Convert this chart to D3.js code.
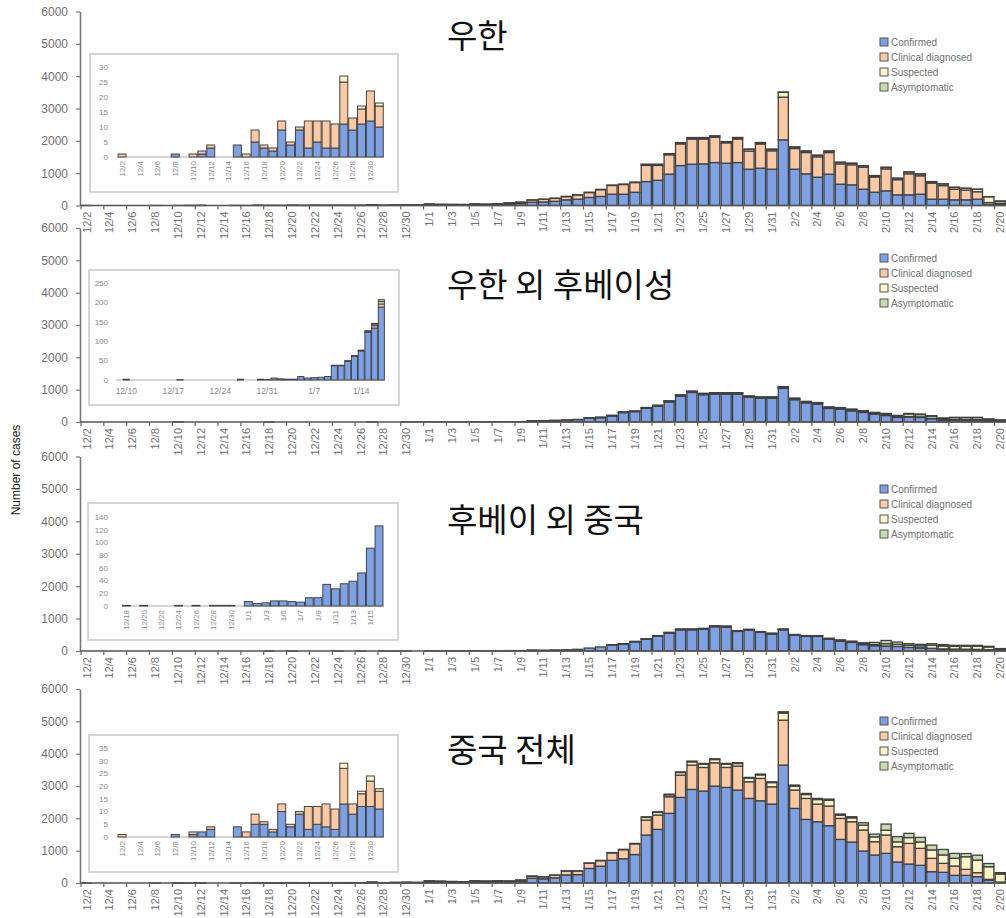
<!DOCTYPE html>
<html><head><meta charset="utf-8">
<script src="https://cdn.jsdelivr.net/npm/d3@7"></script>
<style>body{margin:0;background:#fff;} svg{display:block;}</style>
</head><body><svg id="c" width="1006" height="918"></svg>
<script>
// ---------- categories ----------
const dates = ["12/2","12/3","12/4","12/5","12/6","12/7","12/8","12/9","12/10","12/11","12/12","12/13","12/14","12/15","12/16","12/17","12/18","12/19","12/20","12/21","12/22","12/23","12/24","12/25","12/26","12/27","12/28","12/29","12/30","12/31",
"1/1","1/2","1/3","1/4","1/5","1/6","1/7","1/8","1/9","1/10","1/11","1/12","1/13","1/14","1/15","1/16","1/17","1/18","1/19","1/20","1/21","1/22","1/23","1/24","1/25","1/26","1/27","1/28","1/29","1/30","1/31",
"2/1","2/2","2/3","2/4","2/5","2/6","2/7","2/8","2/9","2/10","2/11","2/12","2/13","2/14","2/15","2/16","2/17","2/18","2/19","2/20"];
const seriesNames = ["Confirmed","Clinical diagnosed","Suspected","Asymptomatic"];
const yTicks = [0,1000,2000,3000,4000,5000,6000];

// ---------- 우한 ----------
const wuhanConfirmed = [0,0,0,0,0,0,1,0,0,1,3,0,0,4,0,5,3,2,9,4,9,3,5,3,3,11,9,11,12,10,
25,20,20,18,28,25,30,50,60,100,110,130,175,195,250,280,350,350,410,740,780,970,1236,1277,1288,1329,1308,1329,1123,1154,1123,
2030,1123,979,876,968,659,639,505,412,453,330,330,350,196,196,175,175,196,30,40];
const wuhanClinical = [1,0,0,0,0,0,0,0,1,1,1,0,0,0,1,4,1,1,3,1,1,9,7,9,8,14,4,5,10,7,
20,15,12,12,18,15,20,30,40,70,80,90,100,130,150,210,270,300,300,500,460,600,670,780,770,780,630,730,560,750,570,
1320,640,660,630,670,630,620,680,470,680,470,650,570,500,420,330,300,230,60,30];
const wuhanSuspected = [0,0,0,0,0,0,0,0,0,0,0,0,0,0,0,0,0,0,0,0,0,0,0,0,0,2,0,1,0,1,
1,1,1,1,2,2,2,3,3,5,5,6,8,8,10,10,12,12,15,30,30,30,35,40,40,40,35,40,55,40,45,
150,45,45,45,45,45,45,45,40,45,40,55,55,40,50,55,55,75,180,60];
const wuhanAsymptomatic = [0,0,0,0,0,0,0,0,0,0,0,0,0,0,0,0,0,0,0,0,0,0,0,0,0,0,0,0,0,0,
0,0,0,0,0,0,0,0,0,0,0,0,0,0,0,0,0,0,0,5,5,5,5,5,5,5,5,5,5,5,5,
10,5,5,5,5,5,5,5,5,5,5,5,5,5,5,5,5,5,5,10];

// ---------- 우한 외 후베이성 ----------
const hubeiConfirmed = [0,0,0,0,0,0,0,0,2,0,0,0,0,0,0,0,1,0,0,0,0,0,0,0,0,2,0,0,2,1,
5,3,2,2,9,5,6,7,9,37,37,48,61,75,123,134,188,290,320,425,490,620,800,915,845,865,865,865,765,735,735,
1040,690,590,555,420,400,345,295,240,200,140,150,140,100,60,60,55,55,35,25];
const hubeiClinical = [0,0,0,0,0,0,0,0,0,0,0,0,0,0,0,0,0,0,0,0,0,0,0,0,0,0,0,0,0,0,
0,0,0,0,0,0,0,0,0,0,0,0,0,0,2,6,8,10,10,12,14,18,20,22,22,22,22,22,22,22,22,
25,22,22,22,22,22,22,20,20,20,20,20,20,15,15,15,15,15,10,8];
const hubeiSuspected = [0,0,0,0,0,0,0,0,0,0,0,0,0,0,0,0,0,0,0,0,0,0,0,0,0,0,0,0,0,0,
0,0,0,0,0,0,0,0,0,0,0,0,0,0,0,4,6,6,6,8,10,12,14,15,15,15,15,15,15,15,15,
25,20,20,20,20,20,25,25,30,35,35,80,70,65,40,60,65,65,40,25];
const hubeiAsymptomatic = [0,0,0,0,0,0,0,0,0,0,0,0,0,0,0,0,0,0,0,0,0,0,0,0,0,0,0,0,0,0,
0,0,0,0,0,0,0,0,0,1,1,2,2,2,2,2,5,3,3,3,3,3,3,3,3,3,3,3,3,3,3,
5,5,5,5,5,5,5,8,8,10,10,15,15,15,10,10,10,10,10,7];

// ---------- 후베이 외 중국 ----------
const otherConfirmed = [0,0,0,0,0,0,0,0,0,0,0,0,0,0,0,0,1,0,1,0,0,0,1,0,1,0,1,1,1,0,
7,4,5,8,8,7,6,13,13,34,27,35,39,52,91,126,190,218,285,362,458,555,655,655,672,750,740,605,645,575,525,
655,485,450,450,360,300,265,195,165,150,140,110,95,80,60,55,50,45,35,20];
const otherClinical = [0,0,0,0,0,0,0,0,0,0,0,0,0,0,0,0,0,0,0,0,0,0,0,0,0,0,0,0,0,0,
0,0,0,0,0,0,0,0,0,0,0,0,0,0,0,0,2,2,3,3,4,5,5,5,5,5,5,5,5,5,5,
5,5,5,5,5,5,5,5,5,5,5,5,5,5,5,5,5,5,5,5];
const otherSuspected = [0,0,0,0,0,0,0,0,0,0,0,0,0,0,0,0,0,0,0,0,0,0,0,0,0,0,0,0,0,0,
0,0,0,0,0,0,0,0,0,0,0,0,0,0,0,0,3,4,5,7,8,10,12,12,13,15,15,12,12,12,12,
12,12,12,12,15,15,15,20,30,70,60,60,60,90,90,85,95,100,85,40];
const otherAsymptomatic = [0,0,0,0,0,0,0,0,0,0,0,0,0,0,0,0,0,0,0,0,0,0,0,0,0,0,0,0,0,0,
0,0,0,0,0,0,0,0,0,0,0,0,0,0,0,0,0,1,2,3,5,5,8,8,10,10,10,8,8,8,8,
8,8,8,8,15,25,20,35,65,100,70,50,45,50,40,30,25,25,20,10];

// ---------- 중국 전체 ----------
const chinaConfirmed = [0,0,0,0,0,0,1,0,1,2,3,0,0,4,0,5,5,2,10,4,9,3,5,4,3,13,9,12,12,11,
40,35,30,28,45,40,45,40,60,150,130,160,250,260,450,520,700,750,880,1483,1658,2153,2647,2894,2843,2997,2956,2874,2616,2544,2441,
3646,2307,1967,1895,1772,1349,1267,989,865,917,649,587,546,350,330,237,237,196,93,30];
const chinaClinical = [1,0,0,0,0,0,0,0,1,0,1,0,0,0,2,4,1,1,3,1,1,9,7,9,8,14,4,5,10,7,
25,20,15,12,20,18,20,20,30,60,60,80,120,110,160,170,230,280,330,463,443,515,690,752,731,721,618,742,515,690,535,
1390,567,649,546,608,649,628,649,412,566,474,638,525,412,278,288,185,124,20,0];
const chinaSuspected = [0,0,0,0,0,0,0,0,0,0,0,0,0,0,0,0,0,0,0,0,0,0,0,0,0,2,0,1,2,1,
1,1,1,1,2,2,2,3,3,5,5,6,8,8,10,10,12,12,15,82,82,60,80,100,100,100,100,80,110,110,130,
220,120,120,140,180,100,120,150,150,150,150,180,200,260,260,240,390,390,390,250];
const chinaAsymptomatic = [0,0,0,0,0,0,0,0,0,0,0,0,0,0,0,0,0,0,0,0,0,0,0,0,0,0,0,0,0,0,
0,0,0,0,0,0,0,0,0,0,0,0,0,0,0,0,0,0,0,20,20,20,20,25,25,25,25,25,25,25,25,
40,35,35,35,35,35,35,75,85,190,160,130,140,150,170,150,100,150,100,40];

// ---------- inset tick labels ----------
const inset1YTicks = [0,5,10,15,20,25,30];
const inset2YTicks = [0,50,100,150,200,250];
const inset3YTicks = [0,20,40,60,80,100,120,140];
const inset4YTicks = [0,5,10,15,20,25,30,35];
const insetDecXTicks = ["12/2","12/4","12/6","12/8","12/10","12/12","12/14","12/16","12/18","12/20","12/22","12/24","12/26","12/28","12/30"];
const inset2XTicks = ["12/10","12/17","12/24","12/31","1/7","1/14"];
const inset3XTicks = ["12/18","12/20","12/22","12/24","12/26","12/28","12/30","1/1","1/3","1/5","1/7","1/9","1/11","1/13","1/15"];

// ---------- drawing ----------
const colors = ["#7da1e4","#fbc9a3","#fcf4c6","#c5ddad"];
const keys = ["c","k","s","a"];
const svg = d3.select("#c");
const FONT = "'Liberation Sans', Arial, sans-serif";

function rowsFrom(arrs, from, to) {
  return dates.slice(from, to).map((d, j) => {
    const i = from + j;
    return {date: d, c: arrs[0][i], k: arrs[1][i], s: arrs[2][i], a: arrs[3][i]};
  });
}

const x = d3.scaleBand().domain(dates).range([81, 1006]).paddingInner(0.12).paddingOuter(0.06);

const panels = [
  {title:"우한", data:[wuhanConfirmed,wuhanClinical,wuhanSuspected,wuhanAsymptomatic], y0:205.5, yTop:11.5, titleY:34, legendY:42,
   inset:{box:[90,54,398,192], xr:[117.6,383.7], from:0, to:30, yr:[157,67], ymax:30, yt:inset1YTicks, xt:insetDecXTicks, rot:true}},
  {title:"우한 외 후베이성", data:[hubeiConfirmed,hubeiClinical,hubeiSuspected,hubeiAsymptomatic], y0:422, yTop:228, titleY:283, legendY:258,
   inset:{box:[89,270,399,405], xr:[116.2,384.7], from:7, to:47, yr:[380,283], ymax:250, yt:inset2YTicks, xt:inset2XTicks, rot:false}},
  {title:"후베이 외 중국", data:[otherConfirmed,otherClinical,otherSuspected,otherAsymptomatic], y0:651, yTop:456.5, titleY:518, legendY:489,
   inset:{box:[88,503,398,640], xr:[121.9,383.4], from:16, to:46, yr:[606,517], ymax:140, yt:inset3YTicks, xt:inset3XTicks, rot:true}},
  {title:"중국 전체", data:[chinaConfirmed,chinaClinical,chinaSuspected,chinaAsymptomatic], y0:883, yTop:689, titleY:748, legendY:721,
   inset:{box:[89,735,398,872], xr:[117.6,383.7], from:0, to:30, yr:[837,748], ymax:35, yt:inset4YTicks, xt:insetDecXTicks, rot:true}}
];

panels.forEach(p => {
  const g = svg.append("g");
  const y = d3.scaleLinear().domain([0, 6000]).range([p.y0, p.yTop]);
  const rows = rowsFrom(p.data, 0, dates.length);
  const stacked = d3.stack().keys(keys)(rows);

  // bars
  g.selectAll("g.layer").data(stacked).join("g")
    .attr("fill", (d, i) => colors[i])
    .selectAll("rect").data(d => d).join("rect")
    .attr("x", d => x(d.data.date))
    .attr("width", x.bandwidth())
    .attr("y", d => y(d[1]))
    .attr("height", d => Math.max(0, y(d[0]) - y(d[1])))
    .attr("stroke", "#404040").attr("stroke-width", 1.3);

  // y axis
  const ya = g.append("g").attr("transform", "translate(80,0)")
    .call(d3.axisLeft(y).tickValues(yTicks).tickFormat(d3.format("d")).tickSizeInner(4).tickSizeOuter(0).tickPadding(8));
  ya.select(".domain").attr("stroke", "#777").attr("stroke-width", 1.6);
  ya.selectAll(".tick line").attr("stroke", "#777").attr("stroke-width", 1.2);
  ya.selectAll("text").attr("fill", "#707070").style("font-family", FONT).style("font-size", "12px");

  // x baseline & ticks
  g.append("line").attr("x1", 80).attr("x2", 1006).attr("y1", p.y0).attr("y2", p.y0)
    .attr("stroke", "#555").attr("stroke-width", 1.6);
  g.selectAll("line.xt").data(dates.filter((d, i) => i % 2 === 0)).join("line")
    .attr("x1", d => x(d) - x.step() * x.paddingInner() / 2)
    .attr("x2", d => x(d) - x.step() * x.paddingInner() / 2)
    .attr("y1", p.y0).attr("y2", p.y0 + 4).attr("stroke", "#666").attr("stroke-width", 1.2);
  g.selectAll("text.xl").data(dates.filter((d, i) => i % 2 === 0)).join("text")
    .attr("transform", d => `translate(${x(d) + x.bandwidth() / 2},${p.y0 + 6}) rotate(-90)`)
    .attr("text-anchor", "end").attr("dy", "0.35em")
    .attr("fill", "#707070").style("font-family", FONT).style("font-size", "11px")
    .text(d => d);

  // title
  g.append("text").attr("x", 447).attr("y", p.titleY).attr("dominant-baseline", "central")
    .style("font-family", "'Noto Sans CJK KR', sans-serif").style("font-size", "33px").attr("fill", "#111")
    .text(p.title);

  // legend
  const lg = g.append("g").attr("transform", `translate(880,${p.legendY})`);
  seriesNames.forEach((n, i) => {
    lg.append("rect").attr("x", 0).attr("y", i * 15 - 4).attr("width", 8).attr("height", 8)
      .attr("fill", colors[i]).attr("stroke", "#555").attr("stroke-width", 1);
    lg.append("text").attr("x", 11).attr("y", i * 15).attr("dy", "0.35em")
      .attr("fill", "#707070").style("font-family", FONT).style("font-size", "10px").text(n);
  });

  // inset
  const ins = p.inset;
  const ig = g.append("g");
  ig.append("rect").attr("x", ins.box[0]).attr("y", ins.box[1])
    .attr("width", ins.box[2] - ins.box[0]).attr("height", ins.box[3] - ins.box[1])
    .attr("fill", "#fff").attr("stroke", "#c8c8c8").attr("stroke-width", 1.5);
  const iRows = rowsFrom(p.data, ins.from, ins.to);
  const ix = d3.scaleBand().domain(iRows.map(r => r.date)).range(ins.xr).paddingInner(0.1).paddingOuter(0.05);
  const iy = d3.scaleLinear().domain([0, ins.ymax]).range(ins.yr);
  const iStack = d3.stack().keys(keys)(iRows);
  ig.append("line").attr("x1", ins.xr[0]).attr("x2", ins.xr[1]).attr("y1", ins.yr[0]).attr("y2", ins.yr[0])
    .attr("stroke", "#aaa").attr("stroke-width", 1);
  ig.selectAll("g.il").data(iStack).join("g")
    .attr("fill", (d, i) => colors[i])
    .selectAll("rect").data(d => d).join("rect")
    .attr("x", d => ix(d.data.date))
    .attr("width", ix.bandwidth())
    .attr("y", d => iy(d[1]))
    .attr("height", d => Math.max(0, iy(d[0]) - iy(d[1])))
    .attr("stroke", d => (d[1] - d[0]) > 0 ? "#444" : "none").attr("stroke-width", 1);
  ig.selectAll("text.iy").data(ins.yt).join("text")
    .attr("x", 108).attr("y", d => iy(d)).attr("dy", "0.35em").attr("text-anchor", "end")
    .attr("fill", "#888").style("font-family", FONT).style("font-size", "8px").text(d => d);
  if (ins.rot) {
    ig.selectAll("text.ix").data(ins.xt).join("text")
      .attr("transform", d => `translate(${ix(d) + ix.bandwidth() / 2},${ins.yr[0] + 4}) rotate(-90)`)
      .attr("text-anchor", "end").attr("dy", "0.35em")
      .attr("fill", "#888").style("font-family", FONT).style("font-size", "8px").text(d => d);
  } else {
    ig.selectAll("text.ix").data(ins.xt).join("text")
      .attr("x", d => ix(d) + ix.bandwidth() / 2).attr("y", ins.yr[0] + 14).attr("text-anchor", "middle")
      .attr("fill", "#888").style("font-family", FONT).style("font-size", "8.5px").text(d => d);
  }
});

// shared y label
svg.append("text").attr("transform", "translate(16,470) rotate(-90)")
  .attr("text-anchor", "middle").attr("dy", "0.35em")
  .style("font-family", FONT).style("font-size", "12px").attr("fill", "#222")
  .text("Number of cases");
</script>
</body></html>
